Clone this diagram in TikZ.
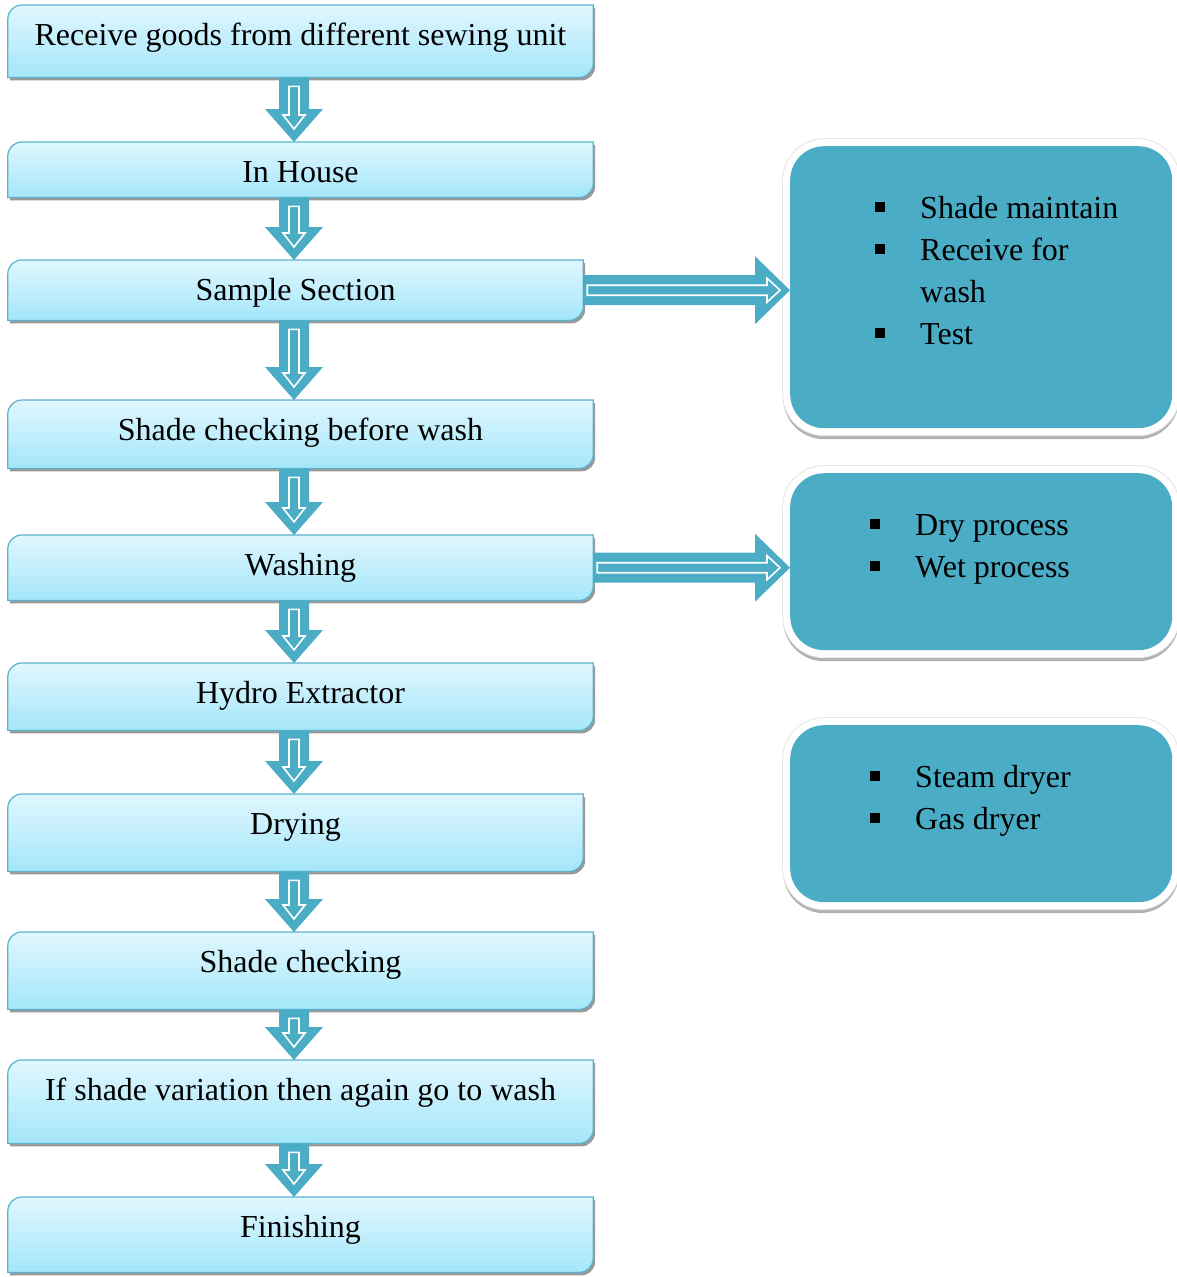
\documentclass[tikz,border=0pt]{standalone}
\usepackage{fontspec}
\setmainfont{Liberation Serif}
\usetikzlibrary{backgrounds}

\definecolor{accent}{HTML}{4BACC6}
\definecolor{steptop}{HTML}{E0F7FE}
\definecolor{stepbot}{HTML}{A4E6FA}
\definecolor{stepline}{HTML}{5AB2CC}

% square bullet for the side lists
\newcommand{\sqbul}{\rule[6pt]{10pt}{10pt}}

% step outline: only top left and bottom right corners are round
\newcommand{\steppath}[1]{(#1.south west) -- ([yshift=-14pt]#1.north west) arc(180:90:14pt) -- (#1.north east) -- ([yshift=14pt]#1.south east) arc(0:-90:14pt) -- cycle}

% block arrow down the column of steps
\newcommand{\downarr}[2]{
  \coordinate (s) at (spine |- #1.south);
  \coordinate (t) at (spine |- #2.north);
  \fill[accent] ([xshift=-15pt]s) -- ([xshift=-15pt,yshift=33pt]t) -- ([xshift=-29pt,yshift=33pt]t) -- (t)
    -- ([xshift=29pt,yshift=33pt]t) -- ([xshift=15pt,yshift=33pt]t) -- ([xshift=15pt]s) -- cycle;
  \draw[white, line width=1.6pt] ([xshift=-5pt,yshift=-9pt]s) -- ([xshift=-5pt,yshift=27pt]t) -- ([xshift=-11pt,yshift=27pt]t)
    -- ([yshift=13pt]t) -- ([xshift=11pt,yshift=27pt]t) -- ([xshift=5pt,yshift=27pt]t) -- ([xshift=5pt,yshift=-9pt]s) -- cycle;
}

% block arrow out to a side box
\newcommand{\rightarr}[2]{
  \coordinate (s) at (#1.east);
  \coordinate (t) at (#2.west |- #1.east);
  \fill[accent] ([yshift=15pt]s) -- ([xshift=-35pt,yshift=15pt]t) -- ([xshift=-35pt,yshift=34pt]t) -- (t)
    -- ([xshift=-35pt,yshift=-34pt]t) -- ([xshift=-35pt,yshift=-15pt]t) -- ([yshift=-15pt]s) -- cycle;
  \draw[white, line width=1.6pt] ([xshift=4pt,yshift=5pt]s) -- ([xshift=-23pt,yshift=5pt]t) -- ([xshift=-23pt,yshift=12pt]t)
    -- ([xshift=-10pt]t) -- ([xshift=-23pt,yshift=-12pt]t) -- ([xshift=-23pt,yshift=-5pt]t) -- ([xshift=4pt,yshift=-5pt]s) -- cycle;
}

\begin{document}
\begin{tikzpicture}[x=1pt,y=-1pt]

\tikzstyle{st} = [anchor=north, minimum width=585pt, inner xsep=0pt, inner ysep=0pt, text height=40pt, font=\fontsize{32}{38}\selectfont]
\tikzstyle{info} = [anchor=north west, minimum width=382pt, inner sep=0pt, fill=accent, rounded corners=34pt,
  preaction={draw=black!30, line width=14pt, transform canvas={yshift=-4pt}},
  preaction={draw=black!10, line width=16pt}, preaction={draw=white, line width=14pt}]
\tikzstyle{lst} = [anchor=base west, inner sep=0pt, font=\fontsize{32}{42}\selectfont]

\useasboundingbox (0,0) rectangle (1176,1277);
\coordinate (spine) at (294,0);

% main column
\node[st, text depth=32pt] (recv) at (300.5,5) {Receive goods from different sewing unit};
\node[st, text depth=15pt] (house) at (300.5,142) {In House};
\node[st, text depth=20pt, minimum width=575pt] (sample) at (295.5,260) {Sample Section};
\node[st, text depth=28pt] (before) at (300.5,400) {Shade checking before wash};
\node[st, text depth=25pt] (wash) at (300.5,535) {Washing};
\node[st, text depth=27pt] (hydro) at (300.5,663) {Hydro Extractor};
\node[st, text depth=37pt, minimum width=575pt] (dry) at (295.5,794) {Drying};
\node[st, text depth=37pt] (check) at (300.5,932) {Shade checking};
\node[st, text depth=43pt] (again) at (300.5,1060) {If shade variation then again go to wash};
\node[st, text depth=35pt] (finish) at (300.5,1197) {Finishing};

\begin{scope}[on background layer]
\foreach \n in {recv,house,sample,before,wash,hydro,dry,check,again,finish}{
  \fill[black!40, transform canvas={xshift=2pt,yshift=-3pt}] \steppath{\n};
  \draw[stepline, line width=1.2pt, top color=steptop, bottom color=stepbot] \steppath{\n};
}
\end{scope}

% side boxes
\node[info, minimum height=282pt] (sampleinfo) at (790,146) {};
\node[info, minimum height=177pt] (washinfo) at (790,473) {};
\node[info, minimum height=177pt] (dryinfo) at (790,725) {};

\node[lst] (samplelist) at (875,218) {\begin{tabular}[t]{@{}l@{\hspace{35pt}}l@{}}
  \sqbul & Shade maintain\\ \sqbul & Receive for\\ & wash\\ \sqbul & Test\end{tabular}};
\node[lst] (washlist) at (870,535) {\begin{tabular}[t]{@{}l@{\hspace{35pt}}l@{}}
  \sqbul & Dry process\\ \sqbul & Wet process\end{tabular}};
\node[lst] (drylist) at (870,787) {\begin{tabular}[t]{@{}l@{\hspace{35pt}}l@{}}
  \sqbul & Steam dryer\\ \sqbul & Gas dryer\end{tabular}};

% arrows
\foreach \a/\b in {recv/house,house/sample,sample/before,before/wash,wash/hydro,hydro/dry,dry/check,check/again,again/finish}{
  \downarr{\a}{\b}
}
\rightarr{sample}{sampleinfo}
\rightarr{wash}{washinfo}

\end{tikzpicture}
\end{document}
